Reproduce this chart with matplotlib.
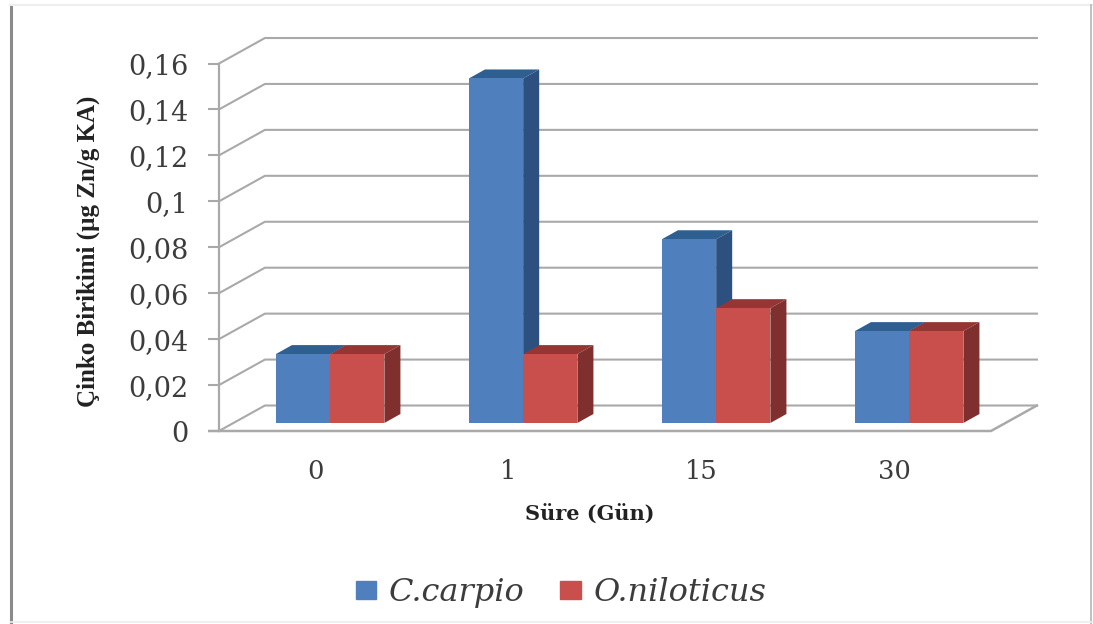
import matplotlib
matplotlib.use('Agg')
import matplotlib.pyplot as plt
from matplotlib.lines import Line2D
from matplotlib.patches import Patch, Polygon

# data
days = ['0', '1', '15', '30']
c_carpio = [0.03, 0.15, 0.08, 0.04]
o_niloticus = [0.03, 0.03, 0.05, 0.04]
y_ticks = [0, 0.02, 0.04, 0.06, 0.08, 0.1, 0.12, 0.14, 0.16]

W, H = 1093, 624
GRID = '#a9a9a9'
TEXT = '#3c3c3c'

# fake 3d depth, in data units
wall_dx, wall_dy = 0.238, 0.0111
floor_dy = 0.0035
bar_left, bar_w = 0.295, 0.281
bar_dx, bar_dy = 0.083, 0.0039

fig = plt.figure(figsize=(W / 100, H / 100), dpi=100)
ax = fig.add_axes([219 / W, 1 - 431 / H, 772 / W, 367.5 / H])
ax.set_xlim(0, len(days))
ax.set_ylim(0, 0.16)
for s in ['top', 'right', 'bottom']:
    ax.spines[s].set_visible(False)
ax.spines['left'].set_color(GRID)
ax.spines['left'].set_linewidth(1.6)

# walls and gridlines
end = len(days) + wall_dx
for v in y_ticks:
    ax.plot([0, wall_dx, end], [v, v + wall_dy, v + wall_dy], color=GRID, lw=1.5, clip_on=False)
ax.plot([-0.05, len(days), end], [0, 0, wall_dy], color=GRID, lw=1.8, clip_on=False)


def draw_bar(x, v, front, top, side):
    y0 = floor_dy
    y1 = floor_dy + v
    ax.add_patch(Polygon([(x, y1), (x + bar_dx, y1 + bar_dy), (x + bar_w + bar_dx, y1 + bar_dy), (x + bar_w, y1)],
                         color=top, lw=0, clip_on=False, zorder=3))
    ax.add_patch(Polygon([(x + bar_w, y0), (x + bar_w + bar_dx, y0 + bar_dy), (x + bar_w + bar_dx, y1 + bar_dy), (x + bar_w, y1)],
                         color=side, lw=0, clip_on=False, zorder=3))
    ax.add_patch(Polygon([(x, y0), (x + bar_w, y0), (x + bar_w, y1), (x, y1)],
                         color=front, lw=0, clip_on=False, zorder=3))


for i in range(len(days)):
    draw_bar(i + bar_left, c_carpio[i], '#4f7fbc', '#2f5f90', '#2c5080')
    draw_bar(i + bar_left + bar_w, o_niloticus[i], '#c84f4b', '#963634', '#7f2f2d')

ax.set_xticks([i + 0.5 for i in range(len(days))])
ax.set_xticklabels(days, family='DejaVu Serif', fontsize=18.5, color=TEXT)
ax.tick_params(axis='x', length=0, pad=20)
ax.set_yticks(y_ticks)
ax.set_yticklabels([str(v).replace('.', ',') for v in y_ticks], family='DejaVu Serif', fontsize=19.5, color=TEXT)
ax.tick_params(axis='y', length=8, width=1.5, color=GRID, pad=14)

ax.set_xlabel('Süre (Gün)', family='DejaVu Serif', fontweight='bold', fontsize=15, color='#222222',
              x=0.48, labelpad=15)
ax.set_ylabel('Çinko Birikimi (µg Zn/g KA)', family='Liberation Serif', fontweight='bold', fontsize=18,
              color='#222222', y=0.488, labelpad=20)

handles = [Patch(color='#4f7fbc', label='C.carpio'), Patch(color='#c84f4b', label='O.niloticus')]
ax.legend(handles=handles, loc='center', bbox_to_anchor=(0.443, -0.44), ncol=2, frameon=False,
          prop={'family': 'DejaVu Serif', 'style': 'italic', 'size': 23}, labelcolor=TEXT,
          handlelength=0.65, handleheight=0.5, handletextpad=0.4, columnspacing=1.1)

# picture border
fig.add_artist(Line2D([10.5 / W, 10.5 / W], [0, 1 - 5 / H], color='#8a8a8a', lw=2.2))
fig.add_artist(Line2D([10 / W, 1], [1 - 5 / H, 1 - 5 / H], color='#eeeeee', lw=1.5))
fig.add_artist(Line2D([1090.5 / W, 1090.5 / W], [0, 1 - 5 / H], color='#b5b5b5', lw=1.2))
fig.add_artist(Line2D([10 / W, 1], [1 - 622 / H, 1 - 622 / H], color='#eeeeee', lw=1.2))

fig.savefig('out.png', dpi=100)
